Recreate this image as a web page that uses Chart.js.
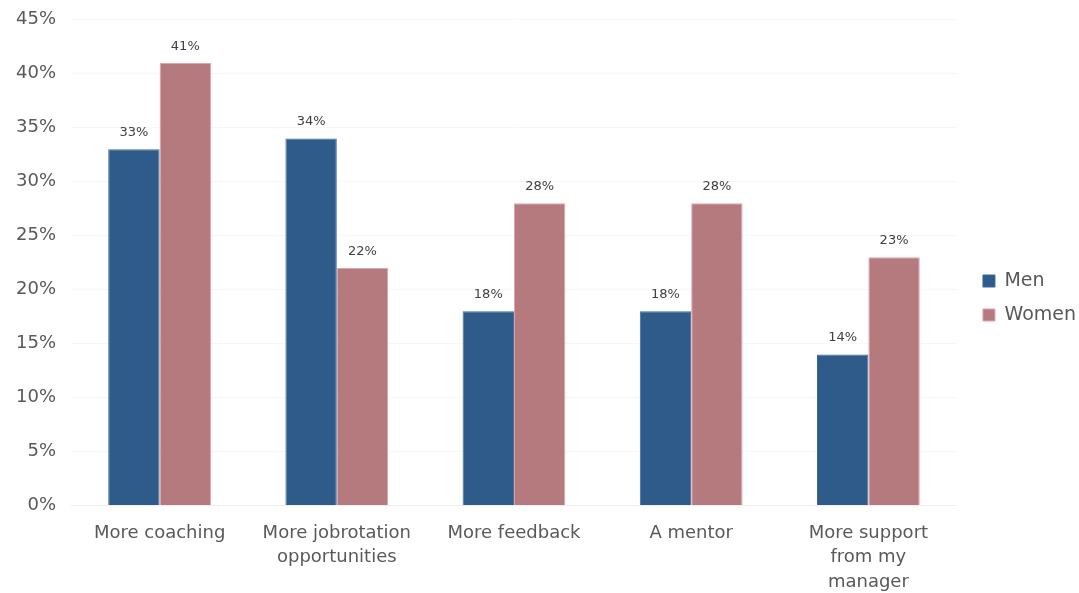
<!DOCTYPE html>
<html>
<head>
<meta charset="utf-8">
<script src="https://cdn.jsdelivr.net/npm/chart.js@4"></script>
<style>
  html, body { margin: 0; padding: 0; background: #fff; overflow: hidden; }
  #wrap { width: 1079px; height: 593px; overflow: hidden; }
  #myChart { display: block; margin-top: -6px; }
</style>
</head>
<body>
<div id="wrap"><canvas id="myChart" width="1079" height="608"></canvas></div>
<script>
var categories = [
  'More coaching',
  ['More jobrotation', 'opportunities'],
  'More feedback',
  'A mentor',
  ['More support', 'from my', 'manager']
];
var men = [33, 34, 18, 18, 14];
var women = [41, 22, 28, 28, 23];

var fontFamily = '"DejaVu Sans", Lato, sans-serif';

// draws the value above each bar
var barLabels = {
  id: 'barLabels',
  afterDatasetsDraw: function(chart) {
    var ctx = chart.ctx;
    ctx.save();
    ctx.font = '13px ' + fontFamily;
    ctx.fillStyle = '#404040';
    ctx.textAlign = 'center';
    ctx.textBaseline = 'bottom';
    chart.data.datasets.forEach(function(ds, i) {
      chart.getDatasetMeta(i).data.forEach(function(bar, j) {
        ctx.fillText(ds.data[j] + '%', bar.x, bar.y - 10);
      });
    });
    ctx.restore();
  }
};

// leave a wider gap between plot and legend, like the original
var legendNudge = {
  id: 'legendNudge',
  afterLayout: function(chart) {
    chart.legend.left += 11;
  }
};

var ctx = document.getElementById('myChart').getContext('2d');
var myChart = new Chart(ctx, {
  type: 'bar',
  data: {
    labels: categories,
    datasets: [{
      label: 'Men',
      data: men,
      backgroundColor: '#2E5B8A',
      borderColor: '#3A6A9A',
      borderWidth: 1
    },
    {
      label: 'Women',
      data: women,
      backgroundColor: '#B57A7E',
      borderColor: '#E3A3AA',
      borderWidth: 1
    }]
  },
  options: {
    responsive: false,
    animation: false,
    layout: { padding: { left: 1, right: 4, top: 0, bottom: 0 } },
    datasets: {
      bar: { categoryPercentage: 0.58, barPercentage: 1 }
    },
    plugins: {
      legend: {
        position: 'right',
        labels: {
          boxWidth: 12,
          boxHeight: 12,
          padding: 15,
          color: '#595959',
          font: { size: 19, family: fontFamily }
        }
      },
      tooltip: { enabled: false }
    },
    scales: {
      x: {
        grid: { display: false },
        border: { color: '#eeeeee' },
        ticks: {
          color: '#595959',
          maxRotation: 0,
          padding: 7,
          font: { size: 18, family: fontFamily, lineHeight: 1.38 }
        }
      },
      y: {
        min: 0,
        max: 45,
        grid: { color: 'rgba(0,0,0,0.03)', drawTicks: false },
        border: { display: false },
        ticks: {
          stepSize: 5,
          padding: 15,
          color: '#595959',
          font: { size: 18, family: fontFamily },
          callback: function(v) { return v + '%'; }
        }
      }
    }
  },
  plugins: [barLabels, legendNudge]
});
</script>
</body>
</html>
